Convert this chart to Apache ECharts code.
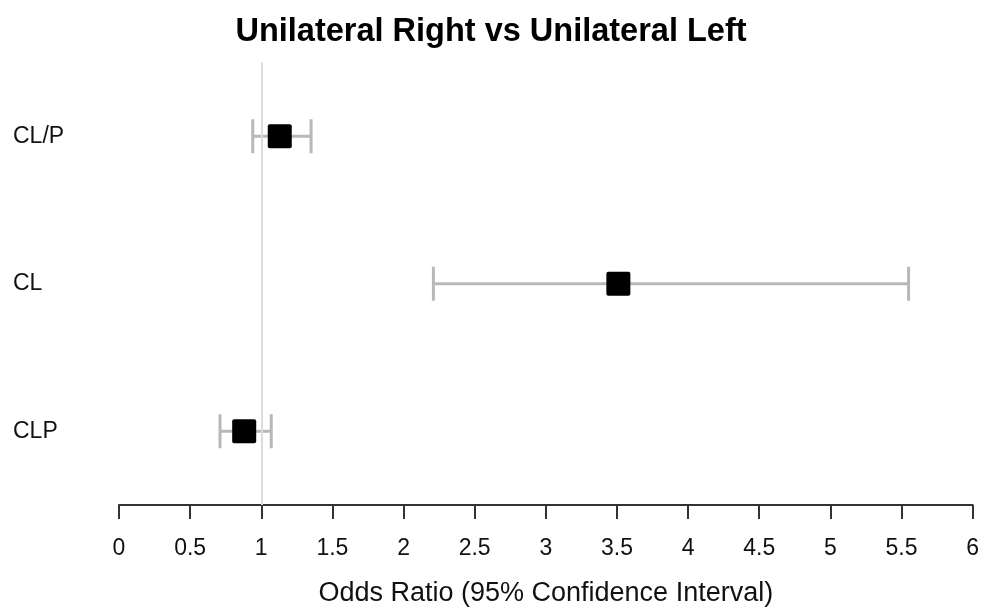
<!DOCTYPE html>
<html>
<head>
<meta charset="utf-8">
<script src="https://cdn.jsdelivr.net/npm/echarts@6/dist/echarts.min.js"></script>
<style>html,body{margin:0;padding:0;background:#fff}#c{width:982px;height:612px}</style>
</head>
<body>
<div id="c"></div>
<script>
var categories = ['CL/P', 'CL', 'CLP'];
var oddsRatio = [1.13, 3.51, 0.88];
var lowerCI = [0.94, 2.21, 0.71];
var upperCI = [1.35, 5.55, 1.07];
var xTicks = [0, 0.5, 1, 1.5, 2, 2.5, 3, 3.5, 4, 4.5, 5, 5.5, 6];
var refValue = 1;

var font = 'Liberation Sans, Arial, Helvetica, sans-serif';
var chart = echarts.init(document.getElementById('c'));

var errData = categories.map(function (c, i) { return [lowerCI[i], upperCI[i], i]; });
var ptData = categories.map(function (c, i) { return [oddsRatio[i], c]; });

chart.setOption({
  animation: false,
  backgroundColor: '#fff',
  title: {
    text: 'Unilateral Right vs Unilateral Left',
    left: 'center',
    top: 11,
    textStyle: { fontFamily: font, fontSize: 32.5, fontWeight: 'bold', color: '#000' }
  },
  grid: { left: 119, right: 9, top: 62.5, bottom: 90.5, containLabel: false },
  xAxis: {
    type: 'value',
    min: xTicks[0],
    max: xTicks[xTicks.length - 1],
    interval: 0.5,
    name: 'Odds Ratio (95% Confidence Interval)',
    nameLocation: 'middle',
    nameGap: 75,
    nameTextStyle: { fontFamily: font, fontSize: 27, color: '#111' },
    axisLine: { show: true, onZero: false, lineStyle: { color: '#333', width: 2 } },
    axisTick: { show: true, length: 14, lineStyle: { color: '#333', width: 2 } },
    axisLabel: { fontFamily: font, fontSize: 23, color: '#111', margin: 32,
      formatter: function (v) { return String(v); } },
    splitLine: { show: false }
  },
  yAxis: {
    type: 'category',
    data: categories,
    inverse: true,
    axisLine: { show: false },
    axisTick: { show: false },
    axisLabel: { fontFamily: font, fontSize: 23, color: '#111', align: 'left', margin: 106 },
    splitLine: { show: false }
  },
  series: [
    {
      type: 'line',
      data: [],
      markLine: {
        silent: true,
        symbol: 'none',
        label: { show: false },
        lineStyle: { color: '#dcdcdc', width: 2, type: 'solid' },
        data: [{ xAxis: refValue }]
      },
      z: 1
    },
    {
      type: 'custom',
      z: 2,
      data: errData,
      renderItem: function (params, api) {
        var y = api.value(2);
        var p1 = api.coord([api.value(0), y]);
        var p2 = api.coord([api.value(1), y]);
        var h = 17;
        var st = { stroke: '#b8b8b8', lineWidth: 3 };
        return {
          type: 'group',
          children: [
            { type: 'line', shape: { x1: p1[0], y1: p1[1], x2: p2[0], y2: p2[1] }, style: st },
            { type: 'line', shape: { x1: p1[0], y1: p1[1] - h, x2: p1[0], y2: p1[1] + h }, style: st },
            { type: 'line', shape: { x1: p2[0], y1: p2[1] - h, x2: p2[0], y2: p2[1] + h }, style: st }
          ]
        };
      }
    },
    {
      type: 'scatter',
      z: 3,
      data: ptData,
      symbol: 'path://M2,0 H22 Q24,0 24,2 V22 Q24,24 22,24 H2 Q0,24 0,22 V2 Q0,0 2,0 Z',
      symbolSize: 24,
      itemStyle: { color: '#000', opacity: 1 }
    }
  ]
});
</script>
</body>
</html>
